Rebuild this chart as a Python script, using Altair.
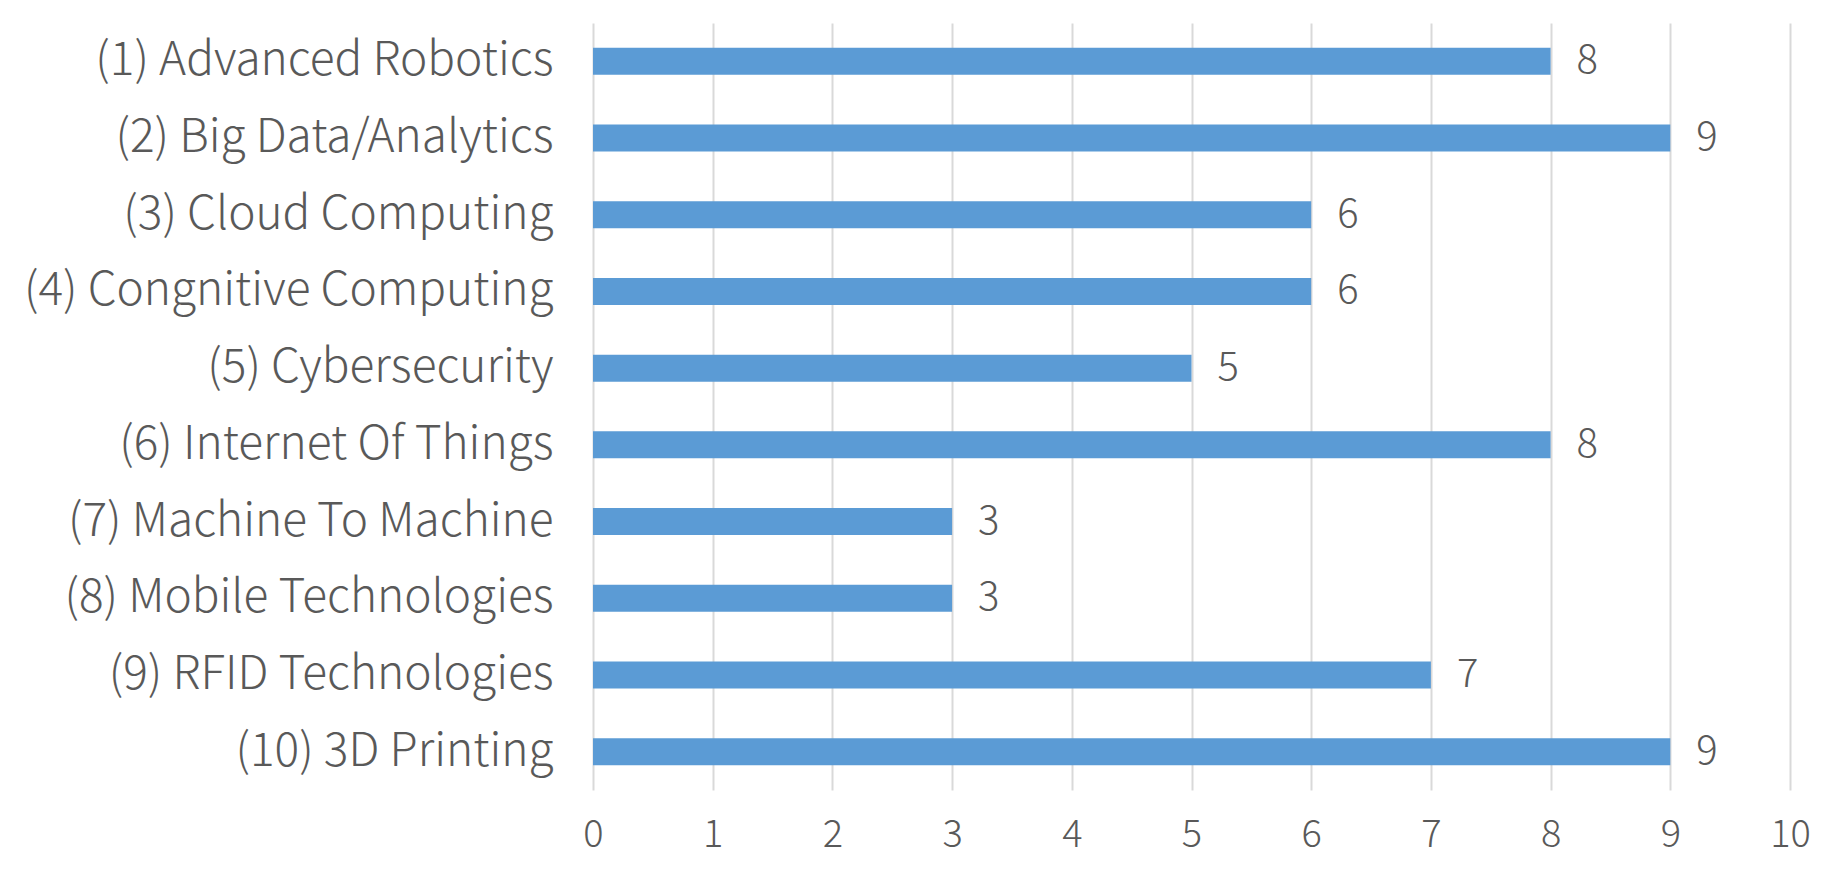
import altair as alt
import pandas as pd

categories = [
    "(1) Advanced Robotics",
    "(2) Big Data/Analytics",
    "(3) Cloud Computing",
    "(4) Congnitive Computing",
    "(5) Cybersecurity",
    "(6) Internet Of Things",
    "(7) Machine To Machine",
    "(8) Mobile Technologies",
    "(9) RFID Technologies",
    "(10) 3D Printing",
]
values = [8, 9, 6, 6, 5, 8, 3, 3, 7, 9]
x_ticks = list(range(0, 11))

df = pd.DataFrame({"cat": categories, "val": values})

FONT = "Noto Sans CJK SC"
TEXT = "#595959"

y_enc = alt.Y(
    "cat:N",
    sort=categories,
    scale=alt.Scale(paddingInner=0.648, paddingOuter=0.324),
    axis=alt.Axis(
        title=None,
        labelFont=FONT,
        labelFontSize=46,
        labelFontWeight=300,
        labelColor=TEXT,
        labelPadding=40,
        ticks=False,
        domain=False,
        grid=False,
        labelLimit=800,
    ),
)
x_enc = alt.X(
    "val:Q",
    scale=alt.Scale(domain=[0, 10], nice=False),
    axis=alt.Axis(
        title=None,
        values=x_ticks,
        format="d",
        labelFont=FONT,
        labelFontSize=38,
        labelFontWeight=300,
        labelColor=TEXT,
        labelAlign="center",
        labelFlush=False,
        labelPadding=26,
        ticks=False,
        domain=False,
        grid=True,
        gridColor="#D9D9D9",
        gridWidth=2,
    ),
)

bars = alt.Chart(df).mark_bar(color="#5B9BD5").encode(x=x_enc, y=y_enc)
labels = alt.Chart(df).mark_text(
    align="left", baseline="middle", dx=26, font=FONT, fontSize=40,
    fontWeight=300, color=TEXT
).encode(x="val:Q", y=alt.Y("cat:N", sort=categories), text="val:Q")

chart = (
    (bars + labels)
    .properties(
        width=1197,
        height=767,
        autosize="none",
        padding={"left": 585, "top": 15, "right": 40, "bottom": 78},
    )
    .configure(background="white")
    .configure_view(stroke=None)
)

chart.save("out.html", embed_options={"renderer": "svg", "actions": False})
